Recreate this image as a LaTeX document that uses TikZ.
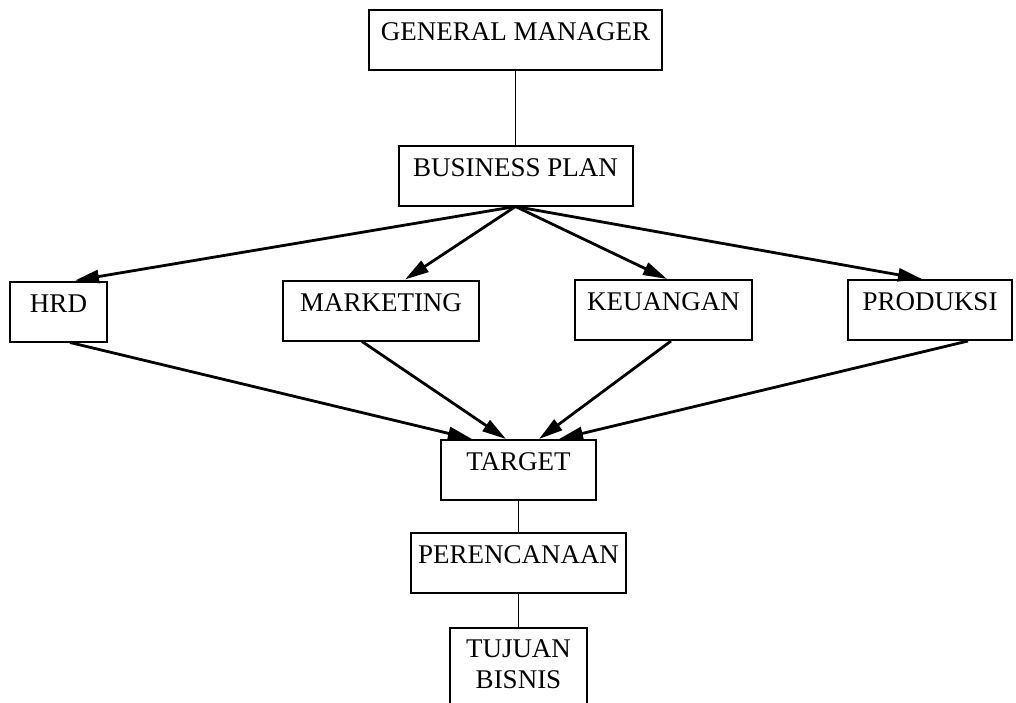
\documentclass[tikz,border=0pt]{standalone}
\usepackage{fontspec}
\setmainfont{Liberation Serif}
\usetikzlibrary{arrows.meta}

\begin{document}
\begin{tikzpicture}[x=1pt,y=-1pt,font=\fontsize{27}{31}\selectfont]
\tikzset{box/.style = {shape=rectangle,draw,line width=2pt,inner sep=0pt,
                       text height=30.5pt,text depth=29.5pt},
         link/.style = {line width=1.5pt},
         arrow/.style = {line width=2.8pt,-{Triangle[length=24pt,width=13pt]}}}
\useasboundingbox (0,0) rectangle (1016,702);
% boxes
\foreach \name/\x/\y/\w/\txt in {gm/515.5/40/293/GENERAL MANAGER,
                                 bp/515.5/175.5/234/BUSINESS PLAN,
                                 hrd/58.5/311.5/97/HRD,
                                 mkt/381/310.5/196/MARKETING,
                                 keu/663.5/310/177/KEUANGAN,
                                 prod/930/310/164/PRODUKSI,
                                 target/518.5/470/155/TARGET,
                                 plan/518.5/563/215/PERENCANAAN} {
    \node[box,minimum width=\w pt] (\name) at (\x,\y) {\txt};
}
\node[box,anchor=north,minimum width=137pt,text height=29pt,text depth=60pt]
    (goal) at (518.5,627) {\parbox[t]{130pt}{\centering TUJUAN\\BISNIS}};
% plain lines
\draw[link] (gm.south) -- (bp.north);
\draw[link] (target.south) -- (plan.north);
\draw[link] (plan.south) -- (goal.north);
% arrows
\foreach \name/\a in {hrd/16.5,mkt/24,keu/3.5,prod/-8} {
    \draw[arrow] (bp.south) -- ([xshift=\a pt]\name.north);
}
\foreach \name/\a/\b in {hrd/11.5/-46.5,mkt/-19/-12.5,keu/7.5/20.5,prod/38/40.5} {
    \draw[arrow] ([xshift=\a pt]\name.south) -- ([xshift=\b pt]target.north);
}
\end{tikzpicture}
\end{document}
